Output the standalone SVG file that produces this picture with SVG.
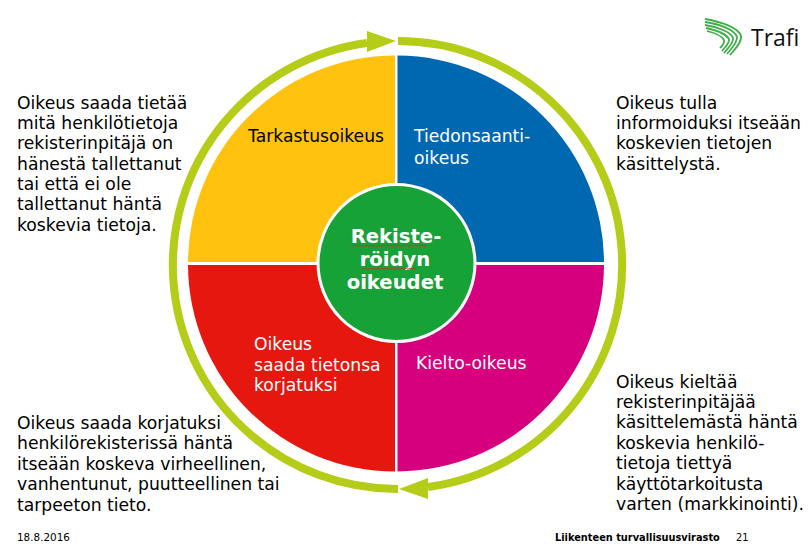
<svg xmlns="http://www.w3.org/2000/svg" width="810" height="548" viewBox="0 0 810 548">
<style>
text{font-family:"DejaVu Sans","Liberation Sans",sans-serif;}
.b{font-size:17.2px;fill:#000;}
.q{font-size:17.2px;}
.w{fill:#fff;}
.c{font-size:19.6px;font-weight:bold;fill:#fff;text-anchor:middle;}
.s{font-size:9.8px;fill:#000;}
.ring{fill:none;stroke:#b5cc18;stroke-width:8;}
.swoosh{fill:none;stroke:#3fae49;stroke-width:1.8;}
.wave{fill:none;stroke:#c0392b;stroke-width:1;}
</style>
<rect width="810" height="548" fill="#fff"/>
<g id="connectors">
<path class="ring" d="M398 489A224 224 0 0 1 367 43"/>
<polygon points="396,41 367,31 367,52" fill="#b5cc18"/>
<path class="ring" d="M398 41A224 224 0 0 1 428 487"/>
<polygon points="399,489 428,478 428,499" fill="#b5cc18"/>
</g>
<g id="quadrant-tarkastus">
<path d="M395 262V55.500A207.500 207.500 0 0 0 188 262Z" fill="#ffc20e"/>
<text class="q" x="248" y="142">Tarkastusoikeus</text>
</g>
<g id="quadrant-tiedonsaanti">
<path d="M397.500 262V55.500A207.500 207.500 0 0 1 604 262Z" fill="#0067b1"/>
<text class="q w" x="414" y="142">Tiedonsaanti-</text>
<text class="q w" x="414" y="164">oikeus</text>
</g>
<g id="quadrant-korjaus">
<path d="M395 265V471.500A207.500 207.500 0 0 1 188 265Z" fill="#e5170f"/>
<text class="q w" x="254" y="350">Oikeus</text>
<text class="q w" x="254" y="371">saada tietonsa</text>
<text class="q w" x="254" y="391">korjatuksi</text>
</g>
<g id="quadrant-kielto">
<path d="M397.500 265V471.500A207.500 207.500 0 0 0 604 265Z" fill="#d6007f"/>
<text class="q w" x="416" y="369">Kielto-oikeus</text>
</g>
<g id="center">
<circle cx="396.500" cy="263" r="78.500" fill="#17a238" stroke="#fff" stroke-width="3"/>
<text class="c" x="396" y="243">Rekiste-</text>
<text class="c" x="395" y="266">röidyn</text>
<text class="c" x="395" y="289">oikeudet</text>
<path class="wave" d="M351 245l2 1.500 2-1.500 2 1.500 2-1.500 2 1.500 2-1.500 2 1.500 2-1.500 2 1.500 2-1.500 2 1.500 2-1.500 2 1.500 2-1.500 2 1.500 2-1.500 2 1.500 2-1.500 2 1.500 2-1.500 2 1.500 2-1.500 2 1.500 2-1.500 2 1.500 2-1.500 2 1.500 2-1.500 2 1.500 2-1.500 2 1.500 2-1.500 2 1.500 2-1.500 2 1.500 2-1.500 2 1.500 2-1.500"/>
<path class="wave" d="M362 268l2 1.500 2-1.500 2 1.500 2-1.500 2 1.500 2-1.500 2 1.500 2-1.500 2 1.500 2-1.500 2 1.500 2-1.500 2 1.500 2-1.500 2 1.500 2-1.500 2 1.500 2-1.500 2 1.500 2-1.500 2 1.500 2-1.500 2 1.500 2-1.500 2 1.500 2-1.500 2 1.500"/>
</g>
<g id="note-tarkastus">
<text class="b" x="17" y="109">Oikeus saada tietää</text>
<text class="b" x="17" y="129">mitä henkilötietoja</text>
<text class="b" x="17" y="149">rekisterinpitäjä on</text>
<text class="b" x="17" y="170">hänestä tallettanut</text>
<text class="b" x="17" y="190">tai että ei ole</text>
<text class="b" x="17" y="210">tallettanut häntä</text>
<text class="b" x="17" y="231">koskevia tietoja.</text>
</g>
<g id="note-tiedonsaanti">
<text class="b" x="616" y="109">Oikeus tulla</text>
<text class="b" x="616" y="129">informoiduksi itseään</text>
<text class="b" x="616" y="149">koskevien tietojen</text>
<text class="b" x="616" y="170">käsittelystä.</text>
</g>
<g id="note-korjaus">
<text class="b" x="17" y="429">Oikeus saada korjatuksi</text>
<text class="b" x="17" y="449">henkilörekisterissä häntä</text>
<text class="b" x="17" y="470">itseään koskeva virheellinen,</text>
<text class="b" x="17" y="490">vanhentunut, puutteellinen tai</text>
<text class="b" x="17" y="511">tarpeeton tieto.</text>
</g>
<g id="note-kielto">
<text class="b" x="616" y="388">Oikeus kieltää</text>
<text class="b" x="616" y="408">rekisterinpitäjää</text>
<text class="b" x="616" y="428">käsittelemästä häntä</text>
<text class="b" x="616" y="449">koskevia henkilö-</text>
<text class="b" x="616" y="469">tietoja tiettyä</text>
<text class="b" x="616" y="490">käyttötarkoitusta</text>
<text class="b" x="616" y="510">varten (markkinointi).</text>
</g>
<g id="logo">
<path class="swoosh" d="M705 19C722 22 739 28 741 36C742 42 735 49 730 55"/>
<path class="swoosh" d="M705 22C720 24 735 30 737 37C738 42 731 49 727 54"/>
<path class="swoosh" d="M705 25C718 27 731 32 733 38C734 43 727 49 724 53"/>
<path class="swoosh" d="M706 28C716 30 726 34 729 39C730 43 725 47 722 51"/>
<path class="swoosh" d="M707 31C715 33 722 36 724 40C725 43 722 46 720 48"/>
<text x="751" y="46" style="font-family:'Open Sans','Liberation Sans',sans-serif;font-size:23px;fill:#111">Trafi</text>
</g>
<g id="footer">
<text class="s" x="17" y="541" style="font-size:10.400px">18.8.2016</text>
<text class="s" x="555" y="541" font-weight="bold">Liikenteen turvallisuusvirasto</text>
<text class="s" x="736" y="541">21</text>
</g>
</svg>
